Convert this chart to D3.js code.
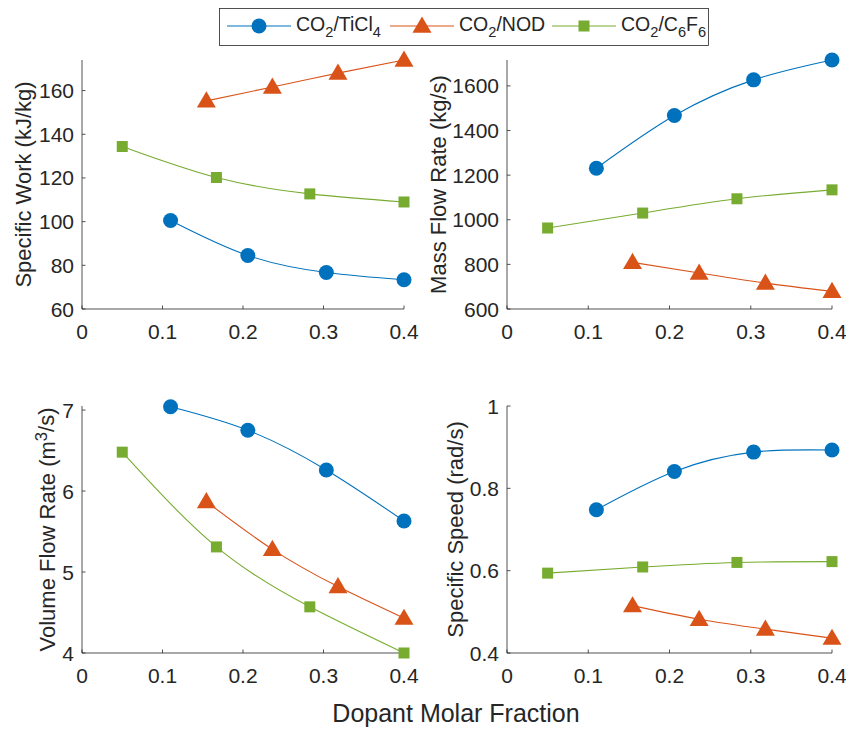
<!DOCTYPE html>
<html>
<head>
<meta charset="utf-8">
<script src="https://cdn.jsdelivr.net/npm/d3@7/dist/d3.min.js"></script>
<style>
	body { margin: 0; background: #fff; }
	text { font-family: "Liberation Sans", Arial, sans-serif; fill: #262626; }
</style>
</head>
<body>
<svg id="plot"></svg>
<script>
const WIDTH = 846;
const HEIGHT = 729;

const svg = d3.select("#plot").attr("width", WIDTH).attr("height", HEIGHT);

// dopant molar fraction of each marker
const xTiCl4 = [0.11, 0.206, 0.3035, 0.4];
const xNOD = [0.1545, 0.2365, 0.318, 0.4];
const xC6F6 = [0.05, 0.167, 0.283, 0.4];

const workTiCl4 = [100.5, 84.5, 76.7, 73.4];
const workNOD = [155.3, 161.6, 168.0, 174.0];
const workC6F6 = [134.4, 120.2, 112.7, 109.0];

const massTiCl4 = [1231, 1467, 1627, 1716];
const massNOD = [809, 761, 716, 679];
const massC6F6 = [963, 1030, 1094, 1134];

const volTiCl4 = [7.04, 6.75, 6.26, 5.63];
const volNOD = [5.87, 5.28, 4.82, 4.43];
const volC6F6 = [6.48, 5.31, 4.57, 4.0];

const speedTiCl4 = [0.748, 0.841, 0.888, 0.893];
const speedNOD = [0.515, 0.482, 0.458, 0.436];
const speedC6F6 = [0.594, 0.609, 0.620, 0.622];

const xTicks = [0, 0.1, 0.2, 0.3, 0.4];

const series = [
	{ name: ["CO", "2", "/TiCl", "4"], color: "#0072BD", marker: "circle", x: xTiCl4 },
	{ name: ["CO", "2", "/NOD"], color: "#D95319", marker: "triangle", x: xNOD },
	{ name: ["CO", "2", "/C", "6", "F", "6"], color: "#77AC30", marker: "square", x: xC6F6 },
];

const panels = [
	{ left: 82, right: 404, top: 60, bottom: 309, yDomain: [60, 174], yTicks: [60, 80, 100, 120, 140, 160],
		label: ["Specific Work (kJ/kg)"], labelX: 23, values: [workTiCl4, workNOD, workC6F6] },
	{ left: 507, right: 832, top: 60, bottom: 309, yDomain: [600, 1716], yTicks: [600, 800, 1000, 1200, 1400, 1600],
		label: ["Mass Flow Rate (kg/s)"], labelX: 438, values: [massTiCl4, massNOD, massC6F6] },
	{ left: 82, right: 404, top: 406, bottom: 653, yDomain: [4, 7.05], yTicks: [4, 5, 6, 7],
		label: ["Volume Flow Rate (m", "3", "/s)"], labelX: 47, values: [volTiCl4, volNOD, volC6F6] },
	{ left: 507, right: 832, top: 406, bottom: 653, yDomain: [0.4, 1], yTicks: [0.4, 0.6, 0.8, 1],
		label: ["Specific Speed (rad/s)"], labelX: 455, values: [speedTiCl4, speedNOD, speedC6F6] },
];

const AXIS_COLOR = "#262626";
const FONT = 21;

function drawMarker(g, type, x, y, color) {
	if (type === "circle") {
		g.append("circle").attr("cx", x).attr("cy", y).attr("r", 7.5).attr("fill", color);
	} else if (type === "triangle") {
		const s = 9.5;
		g.append("path")
			.attr("d", `M${x},${y - s}L${x + s},${y + s * 0.7}L${x - s},${y + s * 0.7}Z`)
			.attr("fill", color);
	} else {
		const s = 5.5;
		g.append("rect").attr("x", x - s).attr("y", y - s).attr("width", 2 * s).attr("height", 2 * s)
			.attr("fill", color);
	}
}

function subText(textSel, parts, mode) {
	// parts alternate normal / sub (or sup) text
	parts.forEach((p, i) => {
		const isSmall = i % 2 === 1;
		const t = textSel.append("tspan").text(p);
		if (isSmall) {
			t.attr("font-size", "0.75em").attr("dy", mode === "sup" ? "-0.45em" : "0.4em");
		} else if (i > 0) {
			t.attr("dy", mode === "sup" ? "0.32em" : "-0.3em");
		}
	});
}

panels.forEach(p => {
	const g = svg.append("g");
	const xScale = d3.scaleLinear([0, 0.4], [p.left, p.right]);
	const yScale = d3.scaleLinear(p.yDomain, [p.bottom, p.top]);

	// axes lines
	g.append("line").attr("x1", p.left).attr("x2", p.right).attr("y1", p.bottom).attr("y2", p.bottom)
		.attr("stroke", AXIS_COLOR).attr("stroke-width", 0.8);
	g.append("line").attr("x1", p.left).attr("x2", p.left).attr("y1", p.bottom).attr("y2", p.top)
		.attr("stroke", AXIS_COLOR).attr("stroke-width", 0.8);

	xTicks.forEach(t => {
		const x = xScale(t);
		g.append("line").attr("x1", x).attr("x2", x).attr("y1", p.bottom).attr("y2", p.bottom - 3.5)
			.attr("stroke", AXIS_COLOR).attr("stroke-width", 0.8);
		g.append("text").attr("x", x).attr("y", p.bottom + 30).attr("text-anchor", "middle")
			.attr("font-size", FONT).text(d3.format("~g")(t));
	});
	p.yTicks.forEach(t => {
		const y = yScale(t);
		g.append("line").attr("x1", p.left).attr("x2", p.left + 3.5).attr("y1", y).attr("y2", y)
			.attr("stroke", AXIS_COLOR).attr("stroke-width", 0.8);
		g.append("text").attr("x", p.left - 8).attr("y", y + 7.5).attr("text-anchor", "end")
			.attr("font-size", FONT).text(d3.format("~g")(t));
	});

	const cy = (p.top + p.bottom) / 2;
	const lbl = g.append("text")
		.attr("transform", `translate(${p.labelX},${cy}) rotate(-90)`)
		.attr("text-anchor", "middle").attr("dy", "0.35em").attr("font-size", 22);
	subText(lbl, p.label, "sup");

	const line = d3.line().curve(d3.curveNatural);
	series.forEach((s, i) => {
		const pts = s.x.map((x, j) => [xScale(x), yScale(p.values[i][j])]);
		g.append("path").attr("d", line(pts)).attr("fill", "none")
			.attr("stroke", s.color).attr("stroke-width", 1.1);
		pts.forEach(([x, y]) => drawMarker(g, s.marker, x, y, s.color));
	});
});

svg.append("text").attr("x", 456).attr("y", 722).attr("text-anchor", "middle")
	.attr("font-size", 25).text("Dopant Molar Fraction");

// legend
const legend = svg.append("g");
legend.append("rect").attr("x", 219.5).attr("y", 8.5).attr("width", 489).attr("height", 37)
	.attr("fill", "#fff").attr("stroke", AXIS_COLOR).attr("stroke-width", 0.8);
const legendX = [227, 390, 552];
series.forEach((s, i) => {
	const x0 = legendX[i];
	legend.append("line").attr("x1", x0).attr("x2", x0 + 64).attr("y1", 26).attr("y2", 26)
		.attr("stroke", s.color).attr("stroke-width", 1.1);
	drawMarker(legend, s.marker, x0 + 32, 26, s.color);
	const t = legend.append("text").attr("x", x0 + 69).attr("y", 31).attr("font-size", 19.5);
	subText(t, s.name, "sub");
});
</script>
</body>
</html>
